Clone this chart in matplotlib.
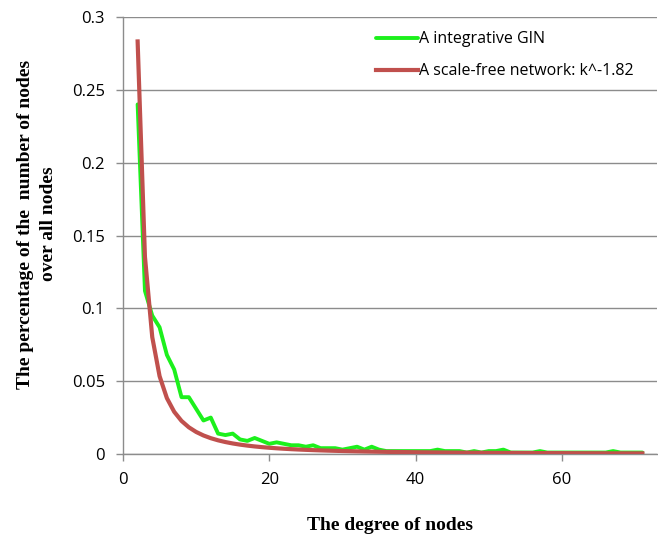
import matplotlib.pyplot as plt
import numpy as np

# degree distribution of the integrative GIN (fraction of nodes with degree k)
degree = np.arange(2, 72)
gin_fraction = [
    0.240, 0.112, 0.095, 0.087, 0.068, 0.058, 0.039, 0.039, 0.031, 0.023,   # k=2..11
    0.025, 0.014, 0.013, 0.014, 0.010, 0.009, 0.011, 0.009, 0.007, 0.008,   # k=12..21
    0.007, 0.006, 0.006, 0.005, 0.006, 0.004, 0.004, 0.004, 0.003, 0.004,   # k=22..31
    0.005, 0.003, 0.005, 0.003, 0.002, 0.002, 0.002, 0.002, 0.002, 0.002,   # k=32..41
    0.002, 0.003, 0.002, 0.002, 0.002, 0.001, 0.002, 0.001, 0.002, 0.002,   # k=42..51
    0.003, 0.001, 0.001, 0.001, 0.001, 0.002, 0.001, 0.001, 0.001, 0.001,   # k=52..61
    0.001, 0.001, 0.001, 0.001, 0.001, 0.002, 0.001, 0.001, 0.001, 0.001,   # k=62..71
]
gamma = 1.82
xticks = [0, 20, 40, 60]
yticks = [0, 0.05, 0.1, 0.15, 0.2, 0.25, 0.3]
ytick_labels = ['0', '0.05', '0.1', '0.15', '0.2', '0.25', '0.3']

# power-law reference curve k^-gamma
scale_free = degree.astype(float) ** (-gamma)

fig = plt.figure(figsize=(6.58, 5.36), dpi=100)
ax = fig.add_axes([123 / 658, 1 - 454 / 536, 534 / 658, 437 / 536])

ax.plot(degree, gin_fraction, color='#1cf01c', lw=2.8, solid_joinstyle='round',
        solid_capstyle='round', label='A integrative GIN', zorder=3)
ax.plot(degree, scale_free, color='#c0504d', lw=3.0, solid_joinstyle='round',
        label='A scale-free network: k^-1.82', zorder=4)

ax.set_xlim(0, 73)
ax.set_ylim(0, 0.3)
ax.set_xticks(xticks)
ax.set_yticks(yticks)
ax.set_yticklabels(ytick_labels)
ax.yaxis.grid(True, color='#8c8c8c', lw=1.0)
ax.set_axisbelow(True)

for side in ['top', 'right']:
    ax.spines[side].set_visible(False)
for side in ['left', 'bottom']:
    ax.spines[side].set_color('#8c8c8c')
    ax.spines[side].set_linewidth(1.0)
ax.tick_params(axis='both', colors='#8c8c8c', length=5, width=1.0,
               labelcolor='black', labelsize=12, pad=8)
for lab in ax.get_xticklabels() + ax.get_yticklabels():
    lab.set_family('Open Sans')

ax.set_xlabel('The degree of nodes', family='Liberation Serif', fontweight='bold',
              fontsize=14)
ax.xaxis.set_label_coords(0.5, -0.145)
ax.set_ylabel('The percentage of the  number of nodes\nover all nodes',
              family='Liberation Serif', fontweight='bold', fontsize=14,
              linespacing=1.45)
ax.yaxis.set_label_coords(-0.124, 0.526)

leg = ax.legend(loc='upper left', bbox_to_anchor=(0.447, 1.0), frameon=False,
                prop={'family': 'Open Sans', 'size': 11.5}, handlelength=2.6,
                handletextpad=0.1, labelspacing=1.0)

fig.savefig('out.png', dpi=100)
